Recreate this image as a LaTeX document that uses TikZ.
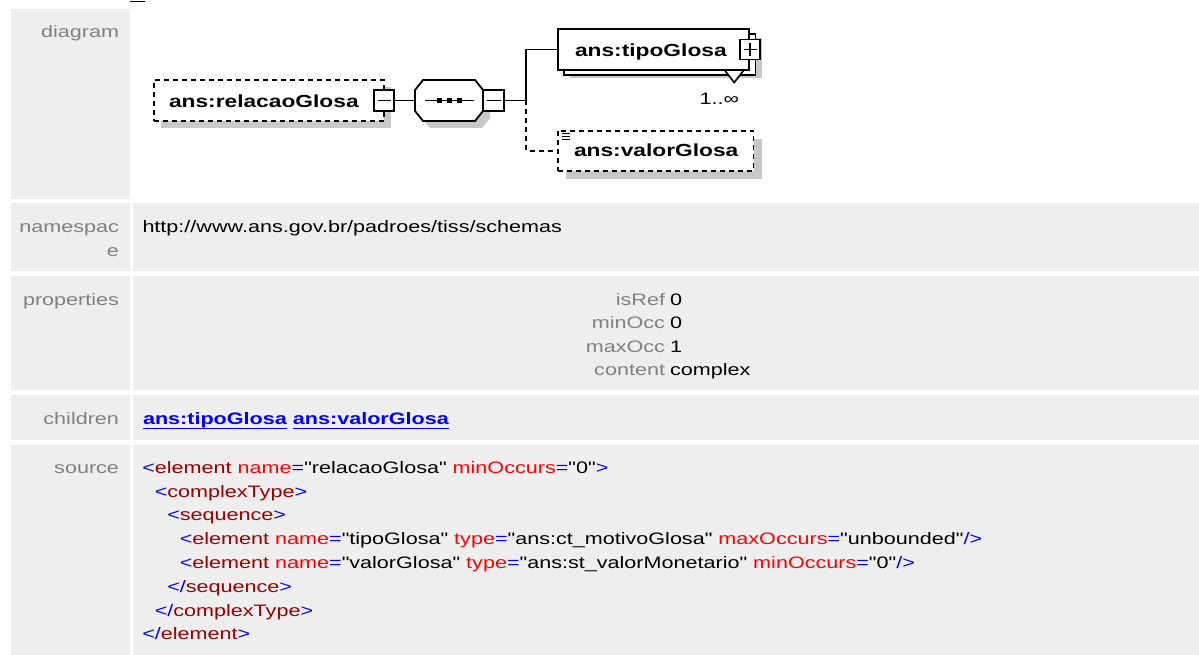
\documentclass[tikz,border=0pt]{standalone}
\usepackage{fontspec}
\setmainfont[FakeStretch=1.30, Ligatures=TeXOff]{Liberation Sans}
\usetikzlibrary{calc}
\definecolor{cellgray}{HTML}{EEEEEE}
\definecolor{labgray}{HTML}{808080}
\definecolor{shadowc}{HTML}{C8C8C8}
\definecolor{xblue}{HTML}{0000FF}
\definecolor{xtag}{HTML}{990000}
\definecolor{xattr}{HTML}{FF0000}
\definecolor{linkblue}{HTML}{0000FF}
\newcommand\xB[1]{\textcolor{xblue}{#1}}
\newcommand\xT[1]{\textcolor{xtag}{#1}}
\newcommand\xA[1]{\textcolor{xattr}{#1}}
\begin{document}
\begin{tikzpicture}[x=1pt,y=-1pt,
  txt/.style={inner sep=0pt, outer sep=0pt, font=\fontsize{16.6}{20}\selectfont},
  lab/.style={txt, text=labgray, anchor=base east},
  val/.style={txt, anchor=base west},
  link/.style={txt, anchor=base west, text=linkblue, font=\fontsize{16.6}{20}\selectfont\bfseries},
  dbold/.style={inner sep=0pt, outer sep=0pt, font=\fontsize{17.5}{20}\selectfont\bfseries, anchor=base west},
  elbox/.style={draw=black, fill=white, line width=1.8pt, inner sep=0pt, outer sep=0pt},
  optbox/.style={elbox, dash pattern=on 5pt off 4pt},
  conn/.style={draw=black, line width=1.8pt},
  optconn/.style={conn, dash pattern=on 5pt off 4pt},
  tiny/.style={draw=black, line width=1.6pt}
]
\useasboundingbox (0,0) rectangle (1199,655);
% table cells
\fill[cellgray] (11,9) rectangle (130,199);
\fill[cellgray] (11,203) rectangle (130,271);
\fill[cellgray] (133,203) rectangle (1199,271);
\fill[cellgray] (11,276) rectangle (130,390);
\fill[cellgray] (133,276) rectangle (1199,390);
\fill[cellgray] (11,395) rectangle (130,440);
\fill[cellgray] (133,395) rectangle (1199,440);
\fill[cellgray] (11,445) rectangle (130,655);
\fill[cellgray] (133,445) rectangle (1199,655);
\draw[line width=1.5pt] (130,1.5) -- (145,1.5);
% labels
\node[lab] (lDiagram) at (119,38) {diagram};
\node[lab] (lNs1) at (119,232.5) {namespac};
\node[lab] (lNs2) at (119,256.5) {e};
\node[lab] (lProp) at (119,305) {properties};
\node[lab] (lChild) at (119,424) {children};
\node[lab] (lSrc) at (119,473.3) {source};
% namespace
\node[val] (ns) at (142.5,232.5) {http://www.ans.gov.br/padroes/tiss/schemas};
% properties
\node[lab] (pk1) at (665,305) {isRef};   \node[val] (pv1) at (670,305) {0};
\node[lab] (pk2) at (665,328.5) {minOcc}; \node[val] (pv2) at (670,328.5) {0};
\node[lab] (pk3) at (665,352) {maxOcc}; \node[val] (pv3) at (670,352) {1};
\node[lab] (pk4) at (665,375.5) {content}; \node[val] (pv4) at (670,375.5) {complex};
% children
\node[link] (c1) at (143,424) {ans:tipoGlosa};
\node[link] (c2) at ($(c1.base east)+(6,0)$) {ans:valorGlosa};
\draw[linkblue, line width=1.6pt] ([yshift=-4.3pt]c1.base west) -- ([yshift=-4.3pt]c1.base east);
\draw[linkblue, line width=1.6pt] ([yshift=-4.3pt]c2.base west) -- ([yshift=-4.3pt]c2.base east);
% source
\node[val] (s1) at (142.3,473.3) {\xB{<}\xT{element} \xA{name}\xB{=}"relacaoGlosa" \xA{minOccurs}\xB{=}"0"\xB{>}};
\node[val] (s2) at (154.8,497.1) {\xB{<}\xT{complexType}\xB{>}};
\node[val] (s3) at (167.3,520.9) {\xB{<}\xT{sequence}\xB{>}};
\node[val] (s4) at (179.8,544.7) {\xB{<}\xT{element} \xA{name}\xB{=}"tipoGlosa" \xA{type}\xB{=}"ans:ct\_motivoGlosa" \xA{maxOccurs}\xB{=}"unbounded"\xB{/>}};
\node[val] (s5) at (179.8,568.5) {\xB{<}\xT{element} \xA{name}\xB{=}"valorGlosa" \xA{type}\xB{=}"ans:st\_valorMonetario" \xA{minOccurs}\xB{=}"0"\xB{/>}};
\node[val] (s6) at (167.3,592.3) {\xB{</}\xT{sequence}\xB{>}};
\node[val] (s7) at (154.8,616.1) {\xB{</}\xT{complexType}\xB{>}};
\node[val] (s8) at (142.3,639.9) {\xB{</}\xT{element}\xB{>}};
% ---- diagram ----
% shadows
\fill[shadowc] (161,87) rectangle (391,128);
\fill[shadowc] (430,87) -- (482,87) -- (490,97) -- (490,118) -- (482,128) -- (430,128) -- (422,118) -- (422,97) -- cycle;
\fill[shadowc] (570,38) rectangle (761.5,78);
\fill[shadowc] (566,139) rectangle (761.5,179);
% element boxes
\node[optbox, minimum width=230pt, minimum height=41pt] (relacao) at (269,100.5) {};
\node[minimum width=68pt, minimum height=41pt, inner sep=0pt, outer sep=0pt] (seq) at (449,100.5) {};
\draw[elbox] (423,80) -- (475,80) -- (483,90) -- (483,111) -- (475,121) -- (423,121) -- (415,111) -- (415,90) -- cycle;
\draw[conn] (425,100.5) -- (474,100.5);
\fill (437,98) rectangle (442,103);
\fill (447,98) rectangle (452,103);
\fill (457,98) rectangle (462,103);
\draw[elbox] (564,34) rectangle (755.5,75);
\node[elbox, minimum width=191pt, minimum height=41pt] (tipo) at (653.5,49.5) {};
\draw[tiny, fill=white] (724.5,70) -- (744,70) -- (734.2,82.5) -- cycle;
\node[optbox, minimum width=195.5pt, minimum height=40.3pt] (valor) at (655.75,150.85) {};
% connectors
\coordinate (jn) at (526,100.5);
\draw[conn] (relacao.east) ++(10,0) -- (seq.west);
\draw[conn] (seq.east) ++(21,0) -- (jn);
\draw[conn] (jn) |- (tipo.west);
\draw[optconn] (jn) |- (valor.west);
% expand boxes
\node[elbox, minimum width=20pt, minimum height=21pt] (rminus) at (384,100.5) {};
\draw[tiny] ([xshift=3.5pt]rminus.west) -- ([xshift=-3.5pt]rminus.east);
\node[elbox, minimum width=21pt, minimum height=21pt] (sminus) at (493.5,100.5) {};
\draw[tiny] ([xshift=3.5pt]sminus.west) -- ([xshift=-3.5pt]sminus.east);
\node[elbox, minimum width=20pt, minimum height=20pt] (tplus) at (750,49.5) {};
\draw[tiny] ([xshift=3.5pt]tplus.west) -- ([xshift=-3.5pt]tplus.east);
\draw[tiny] ([yshift=-3.5pt]tplus.north) -- ([yshift=3.5pt]tplus.south);
% simple content icon
\draw[line width=1pt] (562,133.5) -- (570,133.5);
\draw[line width=1pt] (562,136.5) -- (570,136.5);
\draw[line width=1pt] (562,139.5) -- (570,139.5);
% texts
\node[dbold] (relacaoT) at (169,107.3) {ans:relacaoGlosa};
\node[dbold] (tipoT) at (575,56.5) {ans:tipoGlosa};
\node[dbold] (valorT) at (574,157) {ans:valorGlosa};
\node[txt, anchor=base west] (mult) at (699.5,105) {1..∞};
\end{tikzpicture}
\end{document}
